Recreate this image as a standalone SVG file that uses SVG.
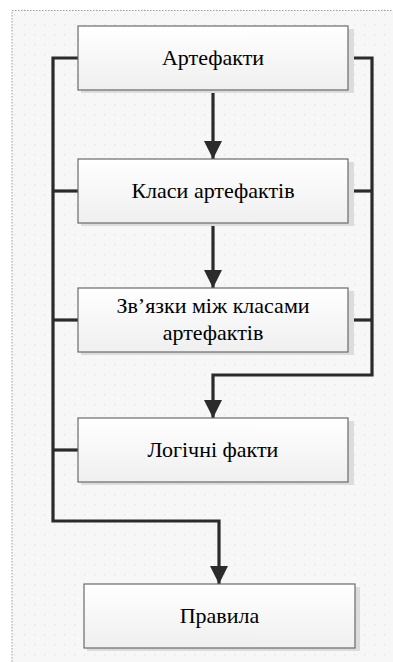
<svg xmlns="http://www.w3.org/2000/svg" width="393" height="662" viewBox="0 0 393 662">
<defs>
<pattern id="dots" x="0" y="0" width="10" height="10" patternUnits="userSpaceOnUse">
<rect width="10" height="10" fill="#f7f7f7"/>
<rect x="4" y="4" width="1.4" height="1.4" fill="#e6e6e6"/>
</pattern>
<linearGradient id="boxfill" x1="0" y1="0" x2="0" y2="1">
<stop offset="0" stop-color="#ffffff"/>
<stop offset="1" stop-color="#efefef"/>
</linearGradient>
<marker id="arr" viewBox="0 0 18 18" refX="18" refY="9" markerWidth="18" markerHeight="18" markerUnits="userSpaceOnUse" orient="auto">
<path d="M0,0 L18,9 L0,18 Z" fill="#2b2b2b"/>
</marker>
<style>
.shadow{fill:#dcdcdc;}
.box{fill:url(#boxfill);stroke:#6a6a6a;stroke-width:1.2;}
.lbl{font-size:22px;fill:#000;text-anchor:middle;}
.ln{fill:none;stroke:#2b2b2b;stroke-width:3.2;stroke-linejoin:miter;}
</style>
</defs>
<rect x="0" y="0" width="393" height="662" fill="#ffffff"/>
<rect x="12" y="10.5" width="390" height="660" fill="url(#dots)" stroke="#9a9a9a" stroke-width="1" stroke-dasharray="1.5,1.5"/>

<g id="connectors">
<path class="ln" d="M78,58 H53 V521 H219 V584" marker-end="url(#arr)"/>
<path class="ln" d="M78,191 H53"/>
<path class="ln" d="M78,320 H53"/>
<path class="ln" d="M78,450 H53"/>
<path class="ln" d="M348,58 H372 V375 H213 V418" marker-end="url(#arr)"/>
<path class="ln" d="M348,191 H372"/>
<path class="ln" d="M348,320 H372"/>
<path class="ln" d="M213,90 V159" marker-end="url(#arr)"/>
<path class="ln" d="M213,223 V288" marker-end="url(#arr)"/>
</g>

<g font-family="Liberation Serif">
<g id="node1">
<rect class="shadow" x="81" y="29" width="273" height="64"/>
<rect class="box" x="78" y="26" width="270" height="64"/>
<text class="lbl" x="213" y="65">Артефакти</text>
</g>
<g id="node2">
<rect class="shadow" x="81" y="162" width="273" height="64"/>
<rect class="box" x="78" y="159" width="270" height="64"/>
<text class="lbl" x="213" y="198">Класи артефактів</text>
</g>
<g id="node3">
<rect class="shadow" x="81" y="291" width="273" height="64"/>
<rect class="box" x="78" y="288" width="270" height="64"/>
<text class="lbl" x="213" y="313">Зв’язки між класами</text>
<text class="lbl" x="213" y="340">артефактів</text>
</g>
<g id="node4">
<rect class="shadow" x="81" y="421" width="273" height="64"/>
<rect class="box" x="78" y="418" width="270" height="64"/>
<text class="lbl" x="213" y="457">Логічні факти</text>
</g>
<g id="node5">
<rect class="shadow" x="87" y="587" width="273" height="64"/>
<rect class="box" x="84" y="584" width="271" height="64"/>
<text class="lbl" x="219.5" y="623">Правила</text>
</g>
</g>
</svg>
